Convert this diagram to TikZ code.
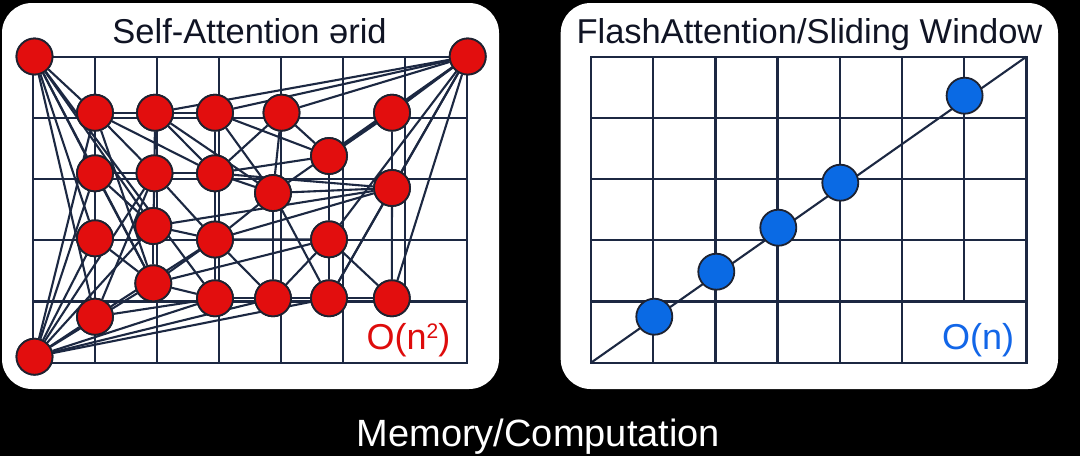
\documentclass[tikz,border=0pt]{standalone}
\usepackage{fontspec}
\setmainfont{Liberation Sans}
\definecolor{navy}{RGB}{28,40,66}
\definecolor{dotred}{RGB}{226,14,14}
\definecolor{dotblue}{RGB}{10,106,228}
\definecolor{dotborder}{RGB}{30,34,48}
\definecolor{lred}{RGB}{222,12,12}
\definecolor{lblue}{RGB}{18,102,232}
\definecolor{titlecol}{RGB}{16,20,36}
\tikzset{
  panel/.style={fill=white, rounded corners=30pt, inner sep=0pt, draw=none},
  gridline/.style={draw=navy, line width=2.3pt, line cap=rect},
  edge/.style={draw=navy, line width=2.1pt},
  rdot/.style={circle, fill=dotred, draw=dotborder, line width=1.8pt, minimum size=36pt, inner sep=0pt},
  bdot/.style={circle, fill=dotblue, draw=dotborder, line width=1.8pt, minimum size=36pt, inner sep=0pt},
  ttl/.style={font=\fontsize{34.5}{40}\selectfont, text=titlecol, anchor=base, inner sep=0pt},
  lbl/.style={font=\fontsize{36}{40}\selectfont, anchor=base, inner sep=0pt},
}
\newcommand{\supTwo}{\raisebox{11pt}{\fontsize{21}{21}\selectfont 2}}
\begin{document}
\begin{tikzpicture}[x=1pt,y=-1pt]
\fill[black] (0,0) rectangle (1080,456);
\useasboundingbox (0,0) rectangle (1080,456);

% panels
\node[panel, minimum width=497pt, minimum height=386pt] (LP) at (250.5,196) {};
\node[panel, minimum width=497.3pt, minimum height=386pt] (RP) at (809.35,196) {};

% titles
\node[ttl] (lt) at (249.6,43) {Self-Attention ərid};
\node[ttl] (rt) at (809.5,43) {FlashAttention/Sliding Window};

% left grid
\foreach \k in {0,1,2,3,4,5,7} \draw[gridline] ({33.3+62*\k},56.7) -- ({33.3+62*\k},362.7);
\draw[gridline] (405.3,56.7) -- (405.3,301.5);
\foreach \k in {0,...,5} \draw[gridline] (33.3,{56.7+61.2*\k}) -- (467.3,{56.7+61.2*\k});

% right grid
\foreach \k in {0,1,2,3,4,5,7} \draw[gridline] ({591+62.2*\k},56.7) -- ({591+62.2*\k},362.7);
\draw[gridline] (964.2,56.7) -- (964.2,301.5);
\foreach \k in {0,...,5} \draw[gridline] (591,{56.7+61.2*\k}) -- (1026.4,{56.7+61.2*\k});

% left nodes
\node[rdot] (TL) at (34.5,56.5) {};
\node[rdot] (TR) at (467.7,56.5) {};
\node[rdot] (BL) at (34.5,356.7) {};
\node[rdot] (a1) at (95,112.7) {};
\node[rdot] (a2) at (155,112.7) {};
\node[rdot] (a3) at (215,112.7) {};
\node[rdot] (a4) at (281.5,112.7) {};
\node[rdot] (a5) at (392,112.7) {};
\node[rdot] (b) at (329,156) {};
\node[rdot] (c1) at (95,173.3) {};
\node[rdot] (c2) at (154.5,173.3) {};
\node[rdot] (c3) at (215,173.3) {};
\node[rdot] (d) at (273,193) {};
\node[rdot] (e) at (392,188) {};
\node[rdot] (f) at (153.3,226) {};
\node[rdot] (g1) at (95,238.3) {};
\node[rdot] (g2) at (215,239.5) {};
\node[rdot] (g3) at (329,239.3) {};
\node[rdot] (h) at (153.3,283.3) {};
\node[rdot] (i1) at (215,298.3) {};
\node[rdot] (i2) at (273,298.3) {};
\node[rdot] (i3) at (329,298.3) {};
\node[rdot] (i4) at (391.8,298.3) {};
\node[rdot] (j) at (95,316.7) {};

% edges
\foreach \p/\q in {TL/a1,TL/c1,TL/g1,TL/f,TL/h,TL/j,TL/i1,
  TR/a2,TR/a3,TR/a4,TR/a5,TR/b,TR/e,TR/d,TR/g3,TR/i3,TR/i4,
  BL/j,BL/h,BL/i1,BL/i2,BL/i3,BL/g1,BL/c1,BL/a1,BL/f,BL/c2,
  a1/a2,a1/c1,a1/c2,a1/c3,a1/h,
  a2/a3,a2/c2,a2/c3,a2/d,
  a3/c3,a3/b,a3/d,
  a4/c3,a4/b,a4/d,
  a5/b,a5/e,
  b/c3,b/g3,
  c1/c2,c1/g1,c1/h,c1/f,
  c2/c3,c2/f,c2/g2,
  c3/g2,c3/d,c3/e,
  d/e,d/i2,d/g2,d/i3,
  e/f,e/g2,e/i4,e/i3,
  f/h,f/g2,
  g1/h,g1/j,
  g2/h,g2/i2,g2/i1,g2/g3,
  g3/h,g3/i2,g3/i3,g3/i4,
  h/i1,i1/i2,i1/j,i2/i3,i3/i4,j/c2,j/g2}
  \draw[edge] (\p) -- (\q);

% redraw left nodes on top of the edges
\foreach \n in {TL,TR,BL,a1,a2,a3,a4,a5,b,c1,c2,c3,d,e,f,g1,g2,g3,h,i1,i2,i3,i4,j}
  \fill[dotred, draw=dotborder, line width=1.8pt] (\n.center) circle (18pt);

% right panel diagonal and nodes
\coordinate (D0) at (591,362.7);
\coordinate (D1) at (1026.4,56.7);
\draw[edge] (D0) -- (D1);
\node[bdot] (s1) at (654.3,316.7) {};
\node[bdot] (s2) at (716.3,271.7) {};
\node[bdot] (s3) at (778.3,227.7) {};
\node[bdot] (s4) at (840.3,182.7) {};
\node[bdot] (s5) at (964.6,95.7) {};

% complexity labels
\node[lbl, text=lred] (on2) at (408.5,349.5) {O(n\supTwo)};
\node[lbl, text=lblue] (on) at (978,349.5) {O(n)};

% bottom caption
\node[font=\fontsize{38}{42}\selectfont, text=white, anchor=base, inner sep=0pt] (mem) at (538.4,446.5) {Memory/Computation};
\end{tikzpicture}
\end{document}
